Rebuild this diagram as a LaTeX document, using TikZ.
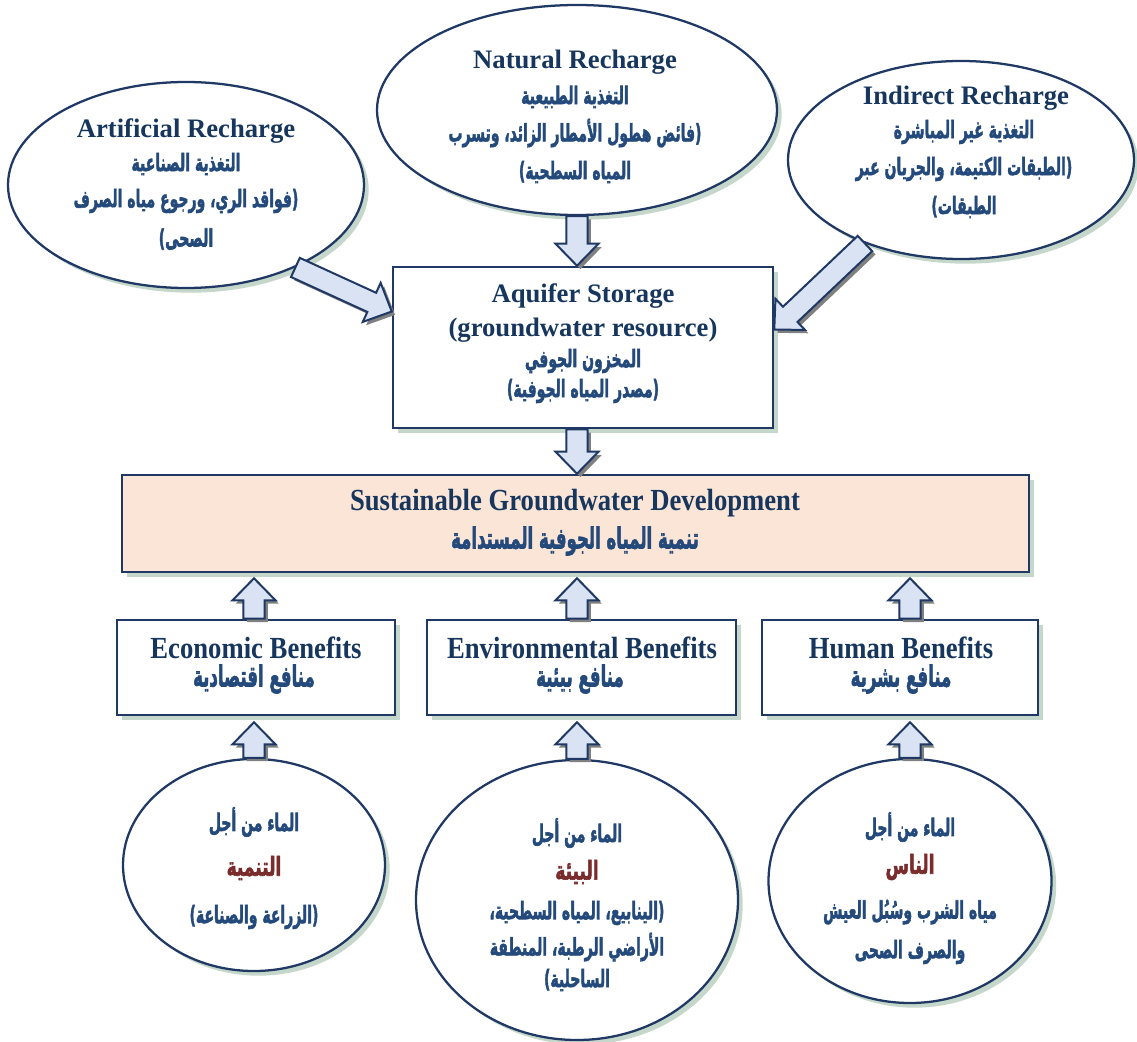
\documentclass[tikz,border=0pt]{standalone}
\usepackage{graphicx}
\usepackage{fontspec}
\setmainfont{Liberation Serif}
\newfontfamily\arfont[Script=Arabic, BoldFeatures={FakeBold=2.5}]{DejaVu Sans}
\TeXXeTstate=1
\usetikzlibrary{calc,shapes.geometric,shadows}
\definecolor{navy}{HTML}{1F3864}
\definecolor{entext}{HTML}{17365D}
\definecolor{artext}{HTML}{244A7C}
\definecolor{maroonx}{HTML}{7A2C2C}
\definecolor{sage}{HTML}{C4D7CA}
\definecolor{arrfill}{HTML}{DAE3F3}
\definecolor{peach}{HTML}{FBE5D6}
\definecolor{arrgray}{HTML}{808080}
\newcommand\arN[1]{\scalebox{0.7}[1.2]{\beginR #1\endR}}
\newcommand\arB[1]{\scalebox{0.73}[1.28]{\beginR #1\endR}}
\newcommand\arM[1]{\scalebox{0.85}[1.3]{\beginR #1\endR}}
\newcommand\enT[1]{\scalebox{1}[1.15]{#1}}
\tikzset{
  shad/.style={drop shadow={shadow xshift=3.5pt, shadow yshift=-3.5pt, fill=sage, opacity=1}},
  ell/.style={ellipse, draw=navy, line width=1.7pt, fill=white, inner sep=0pt, shad},
  boxx/.style={rectangle, draw=navy, line width=1.9pt, fill=white, inner sep=0pt, shad},
  en/.style={font=\fontsize{20}{22}\selectfont\bfseries, text=entext, inner sep=0pt},
  ens/.style={font=\fontsize{20}{22}\selectfont\bfseries, text=entext, inner sep=0pt},
  ar/.style={font=\arfont\bfseries\fontsize{15}{17}\selectfont, text=artext, inner sep=0pt},
  arb/.style={font=\arfont\bfseries\fontsize{17}{19}\selectfont, text=artext, inner sep=0pt},
  arm/.style={font=\arfont\bfseries\fontsize{15}{17}\selectfont, text=maroonx, inner sep=0pt},
  arrbody/.style={fill=arrfill, draw=navy, line width=1.5pt, line join=miter},
  arrsh/.style={fill=arrgray}
}
\newcommand\blockarr[2]{%
  \coordinate (bas) at #1;
  \coordinate (bat) at #2;
  \coordinate (bah) at ($(bat)!16.5pt!(bas)$);
  \fill[arrsh, transform canvas={xshift=2.5pt, yshift=-2.5pt}]
    ($(bas)!7.9pt!90:(bat)$) -- ($(bah)!7.9pt!90:(bat)$) -- ($(bah)!16.1pt!90:(bat)$) -- (bat)
    -- ($(bah)!16.1pt!-90:(bat)$) -- ($(bah)!7.9pt!-90:(bat)$) -- ($(bas)!7.9pt!-90:(bat)$) -- cycle;
  \filldraw[arrbody]
    ($(bas)!7.9pt!90:(bat)$) -- ($(bah)!7.9pt!90:(bat)$) -- ($(bah)!16.1pt!90:(bat)$) -- (bat)
    -- ($(bah)!16.1pt!-90:(bat)$) -- ($(bah)!7.9pt!-90:(bat)$) -- ($(bas)!7.9pt!-90:(bat)$) -- cycle;
}
\begin{document}
\begin{tikzpicture}[x=0.75pt,y=-0.75pt]
\useasboundingbox (0,0) rectangle (1137,1041);
% top ellipses
\node[ell, minimum width=267pt, minimum height=154.5pt] (art) at (186,185) {};
\node[ell, minimum width=300pt, minimum height=157.5pt] (nat) at (577,110) {};
\node[ell, minimum width=259.5pt, minimum height=148.5pt] (ind) at (961,160) {};
% aquifer
\node[boxx, minimum width=285pt, minimum height=120.75pt] (aq) at (583,347.5) {};
% SGD
\node[boxx, fill=peach, minimum width=680.25pt, minimum height=72.75pt] (sgd) at (575.5,523.5) {};
% benefits
\node[boxx, minimum width=208.5pt, minimum height=71.25pt] (eb) at (256,667.5) {};
\node[boxx, minimum width=231.75pt, minimum height=71.25pt] (vb) at (581.5,667.5) {};
\node[boxx, minimum width=207pt, minimum height=71.25pt] (hb) at (900,667.5) {};
% bottom ellipses
\node[ell, minimum width=196.5pt, minimum height=159pt] (eel) at (254,865) {};
\node[ell, minimum width=241.5pt, minimum height=210pt] (vel) at (577,900) {};
\node[ell, minimum width=212.25pt, minimum height=183pt] (hel) at (910,881) {};

% texts: artificial
\node[en] (ta1) at (186,131) {Artificial Recharge};
\node[ar] (ta2) at (186,164) {\arN{التغذية الصناعية}};
\node[ar] (ta3) at (186,201) {\arN{(فواقد الري، ورجوع مياه الصرف}};
\node[ar] (ta4) at (186,239) {\arN{الصحى)}};
% natural
\node[en] (tn1) at (575,62) {Natural Recharge};
\node[ar] (tn2) at (575,97) {\arN{التغذية الطبيعية}};
\node[ar] (tn3) at (575,133) {\arN{(فائض هطول الأمطار الزائد، وتسرب}};
\node[ar] (tn4) at (575,172) {\arN{المياه السطحية)}};
% indirect
\node[en] (ti1) at (966,98) {Indirect Recharge};
\node[ar] (ti2) at (964,132) {\arN{التغذية غير المباشرة}};
\node[ar] (ti3) at (964,169) {\arN{(الطبقات الكتيمة، والجريان عبر}};
\node[ar] (ti4) at (964,207) {\arN{الطبقات)}};
% aquifer
\node[en] (tq1) at (583,296) {Aquifer Storage};
\node[en] (tq2) at (583,330) {(groundwater resource)};
\node[ar] (tq3) at (583,361) {\arN{المخزون الجوفي}};
\node[ar] (tq4) at (583,391) {\arN{(مصدر المياه الجوفية)}};
% SGD
\node[ens] (ts1) at (575,503) {\enT{Sustainable Groundwater Development}};
\node[arb] (ts2) at (575,541) {\arB{تنمية المياه الجوفية المستدامة}};
% benefits
\node[ens] (te1) at (256,648) {\enT{Economic Benefits}};
\node[arb] (te2) at (254,679) {\arB{منافع اقتصادية}};
\node[ens] (tv1) at (582,648) {\enT{Environmental Benefits}};
\node[arb] (tv2) at (580,679) {\arB{منافع بيئية}};
\node[ens] (th1) at (901,648) {\enT{Human Benefits}};
\node[arb] (th2) at (901,679) {\arB{منافع بشرية}};
% bottom ellipses texts
\node[ar] (tw1) at (254,822) {\arN{الماء من أجل}};
\node[arm] (tw2) at (254,868) {\arM{التنمية}};
\node[ar] (tw3) at (254,917) {\arN{(الزراعة والصناعة)}};
\node[ar] (tx1) at (577,833) {\arN{الماء من أجل}};
\node[arm] (tx2) at (577,872) {\arM{البيئة}};
\node[ar] (tx3) at (577,913) {\arN{(الينابيع، المياه السطحية،}};
\node[ar] (tx4) at (577,947) {\arN{الأراضي الرطبة، المنطقة}};
\node[ar] (tx5) at (577,980) {\arN{الساحلية)}};
\node[ar] (ty1) at (910,827) {\arN{الماء من أجل}};
\node[arm] (ty2) at (910,867) {\arM{الناس}};
\node[ar] (ty3) at (910,912) {\arN{مياه الشرب وسُبُل العيش}};
\node[ar] (ty4) at (910,952) {\arN{والصرف الصحى}};

% block arrows
\blockarr{(nat.south)}{(aq.north -| nat.south)}
\blockarr{(art.-37.5)}{($(aq.north west)!0.28!(aq.south west)$)}
\blockarr{(ind.-139.1)}{($(aq.north east)!0.39!(aq.south east)$)}
\blockarr{(aq.south -| nat.south)}{(sgd.north -| nat.south)}
\blockarr{(eb.north -| eel.north)}{($(sgd.south -| eel.north)+(0,5)$)}
\blockarr{(vb.north -| vel.north)}{($(sgd.south -| vel.north)+(0,5)$)}
\blockarr{(hb.north -| hel.north)}{($(sgd.south -| hel.north)+(0,5)$)}
\blockarr{(eel.north)}{($(eb.south -| eel.north)+(0,6)$)}
\blockarr{(vel.north)}{($(vb.south -| vel.north)+(0,6)$)}
\blockarr{(hel.north)}{($(hb.south -| hel.north)+(0,6)$)}
\end{tikzpicture}
\end{document}
